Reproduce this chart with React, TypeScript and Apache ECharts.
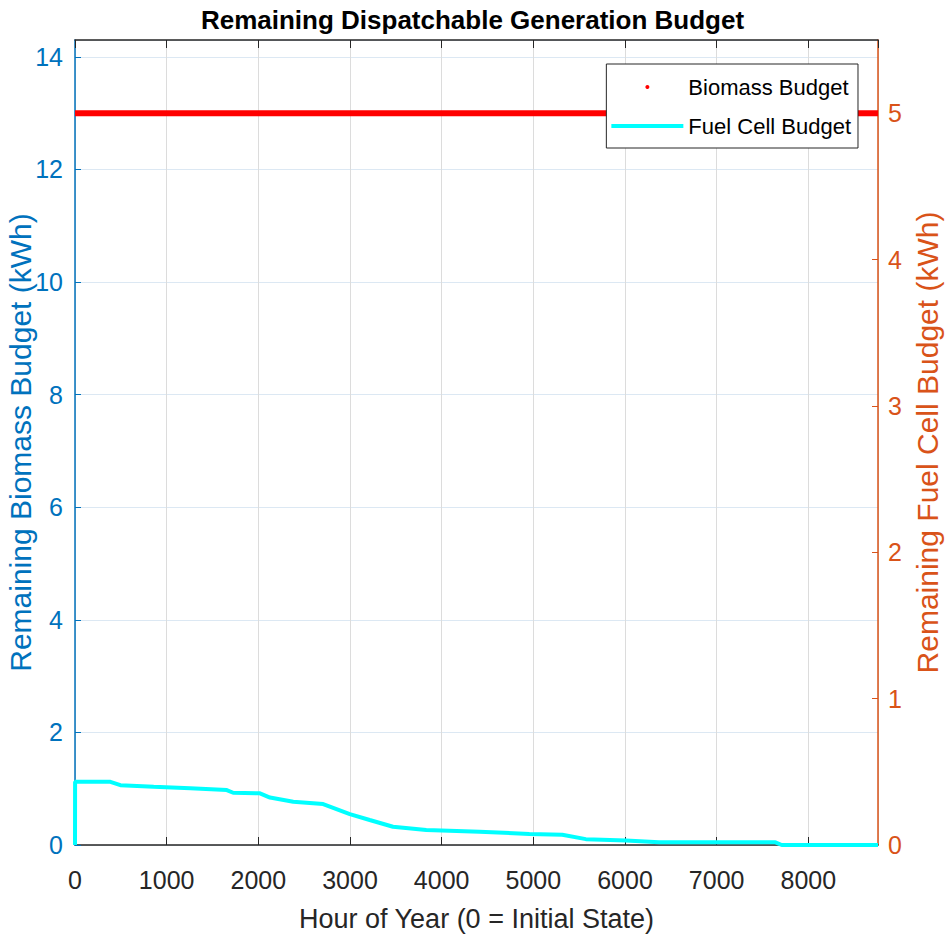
import React, { useEffect, useRef } from "react";
import * as echarts from "echarts";

const FONT = "'Liberation Sans', Arial, Helvetica, sans-serif";

const titleText = "Remaining Dispatchable Generation Budget";
const xAxisName = "Hour of Year (0 = Initial State)";
const leftAxisName = "Remaining Biomass Budget (kWh)";
const rightAxisName = "Remaining Fuel Cell Budget (kWh)";
const seriesNames = ["Biomass Budget", "Fuel Cell Budget"];

const biomassHours = [0, 8760];
const biomassValues = [13, 13];

const fuelCellHours = [0, 1, 386, 495, 858, 1257, 1656, 1725, 2018, 2127, 2381, 2707, 2998, 3215, 3469, 3832, 4412, 4956, 5316, 5573, 6009, 6371, 7641, 7710, 8760];
const fuelCellValues = [0, 0.432, 0.432, 0.409, 0.398, 0.387, 0.375, 0.357, 0.353, 0.324, 0.296, 0.28, 0.211, 0.171, 0.125, 0.102, 0.091, 0.075, 0.07, 0.04, 0.03, 0.018, 0.018, 0, 0];

const LEFT_COLOR = "#0072BD";
const RIGHT_COLOR = "#D95319";
const DARK = "#262626";

const plain = (v: number) => String(v);

export default function App() {
  const ref = useRef<HTMLDivElement>(null);
  useEffect(() => {
    if (!ref.current) return;
    const chart = echarts.init(ref.current, null, { renderer: "svg" });
    const option: any = {
      animation: false,
      backgroundColor: "#ffffff",
      textStyle: { fontFamily: FONT },
      title: {
        text: titleText,
        left: "center",
        top: 2,
        textStyle: { fontFamily: FONT, fontWeight: "bold", fontSize: 26, color: "#000000" },
      },
      grid: { left: 75, right: 67, top: 40, bottom: 101, containLabel: false, outerBoundsMode: "none" },
      legend: {
        orient: "vertical",
        right: 87,
        top: 64,
        padding: [12, 7, 11, 5],
        itemGap: 17,
        itemWidth: 72,
        itemHeight: 4,
        backgroundColor: "#ffffff",
        borderColor: DARK,
        borderWidth: 1,
        borderRadius: 0,
        textStyle: { fontFamily: FONT, fontSize: 22, color: "#000000" },
        data: [
          { name: seriesNames[0], icon: "circle", itemStyle: { color: "#ff0000" } },
          { name: seriesNames[1], icon: "rect", itemStyle: { color: "#00ffff" } },
        ],
        z: 10,
      },
      xAxis: [
        {
          type: "value",
          position: "bottom",
          min: 0,
          max: 8760,
          interval: 1000,
          name: xAxisName,
          nameLocation: "middle",
          nameGap: 60,
          nameMoveOverlap: false,
          nameTextStyle: { fontFamily: FONT, fontSize: 27, color: DARK },
          axisLine: { show: true, onZero: false, lineStyle: { color: DARK, width: 1.5 } },
          axisTick: { show: true, inside: true, length: 8, lineStyle: { color: DARK } },
          axisLabel: { fontFamily: FONT, fontSize: 25, color: DARK, margin: 22, showMaxLabel: false, formatter: plain },
          splitLine: { show: true, lineStyle: { color: "#dcdcdc", width: 1 } },
        },
        {
          type: "value",
          position: "top",
          min: 0,
          max: 8760,
          interval: 1000,
          axisLine: { show: true, onZero: false, lineStyle: { color: DARK, width: 1.5 } },
          axisTick: { show: true, inside: true, length: 8, lineStyle: { color: DARK } },
          axisLabel: { show: false },
          splitLine: { show: false },
        },
      ],
      yAxis: [
        {
          type: "value",
          position: "left",
          min: 0,
          max: 14.3,
          interval: 2,
          name: leftAxisName,
          nameLocation: "middle",
          nameRotate: 90,
          nameGap: 40,
          nameMoveOverlap: false,
          nameTextStyle: { fontFamily: FONT, fontSize: 30, color: LEFT_COLOR },
          axisLine: { show: true, onZero: false, lineStyle: { color: LEFT_COLOR, width: 1.5 } },
          axisTick: { show: true, inside: true, length: 6, lineStyle: { color: LEFT_COLOR } },
          axisLabel: { fontFamily: FONT, fontSize: 25, color: LEFT_COLOR, margin: 12, showMaxLabel: false, formatter: plain },
          splitLine: { show: true, lineStyle: { color: "#dce8f3", width: 1 } },
        },
        {
          type: "value",
          position: "right",
          min: 0,
          max: 5.5,
          interval: 1,
          name: rightAxisName,
          nameLocation: "middle",
          nameRotate: 90,
          nameGap: 34,
          nameMoveOverlap: false,
          nameTextStyle: { fontFamily: FONT, fontSize: 30, color: RIGHT_COLOR },
          axisLine: { show: true, onZero: false, lineStyle: { color: RIGHT_COLOR, width: 1.5 } },
          axisTick: { show: true, inside: true, length: 6, lineStyle: { color: RIGHT_COLOR } },
          axisLabel: { fontFamily: FONT, fontSize: 25, color: RIGHT_COLOR, margin: 10, showMaxLabel: false, formatter: plain },
          splitLine: { show: false },
        },
      ],
      series: [
        {
          name: seriesNames[0],
          type: "line",
          xAxisIndex: 0,
          yAxisIndex: 0,
          data: biomassHours.map((h, i) => [h, biomassValues[i]]),
          showSymbol: false,
          symbol: "none",
          lineStyle: { color: "#ff0000", width: 6 },
          itemStyle: { color: "#ff0000" },
          clip: true,
          z: 3,
        },
        {
          name: seriesNames[1],
          type: "line",
          xAxisIndex: 0,
          yAxisIndex: 1,
          data: fuelCellHours.map((h, i) => [h, fuelCellValues[i]]),
          showSymbol: false,
          symbol: "none",
          lineStyle: { color: "#00ffff", width: 4 },
          itemStyle: { color: "#00ffff" },
          clip: false,
          z: 3,
        },
      ],
    };
    chart.setOption(option);
    return () => chart.dispose();
  }, []);
  return (
    <div
      ref={ref}
      style={{ position: "fixed", left: 0, top: 0, width: 945, height: 946, background: "#fff" }}
    />
  );
}
